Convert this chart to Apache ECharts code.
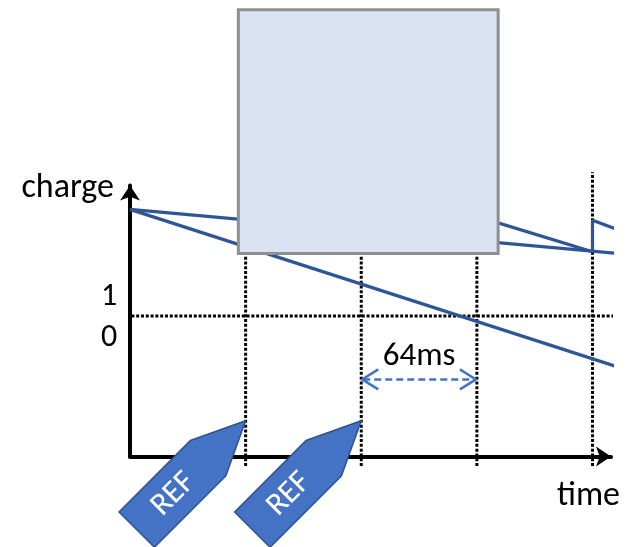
<!DOCTYPE html>
<html><head><meta charset="utf-8">
<script src="https://cdn.jsdelivr.net/npm/echarts@6/dist/echarts.min.js"></script>
<style>html,body{margin:0;padding:0;background:#fff}#c{width:637px;height:547px}</style>
</head><body><div id="c"></div>
<script>
const FONT_FAMILY = 'Carlito, Lato, "Liberation Sans", sans-serif';
// time measured in 64 ms slots, charge measured so the 1/0 threshold is 1
const slowDrain = [[0, 1.76], [4.23, 1.445]];
const fastDrain = [[0, 1.76], [4.22, 0.637]];
const sawtooth = [[3, 1.71], [4, 1.458], [4, 1.683], [4.23, 1.612]];
const slotTimes = [1, 2, 3, 4];
const slotSpan = [-0.068, 2.025];
const threshold = 1;
const thresholdSpan = [-0.32, 4.22];
const refMarkers = [[1, 0.255], [2, 0.255]];
const refLabel = 'REF';
const span = [[2, 3, 0.549]];
const spanLabel = '64ms';
const coverBox = [[0.937, 1.445, 3.184, 3.182]];
const axisNames = { x: 'time', y: 'charge' };
const levelLabels = ['1', '0'];

const chart = echarts.init(document.getElementById('c'));
const BLUE = '#2E5597';
const dotted = { color: '#000', width: 3, type: [3, 1.8] };

const series = [];
slotTimes.forEach(t => {
  series.push({ type: 'line', data: [[t, slotSpan[0]], [t, slotSpan[1]]], showSymbol: false, clip: false,
    lineStyle: dotted, z: 3, silent: true });
});
series.push({ type: 'line', data: [[thresholdSpan[0], threshold], [thresholdSpan[1], threshold]], showSymbol: false,
  clip: false, lineStyle: dotted, z: 3, silent: true });
[slowDrain, fastDrain, sawtooth].forEach(d => {
  series.push({ type: 'line', data: d, showSymbol: false, clip: false,
    lineStyle: { color: BLUE, width: 3.2 }, z: 4, silent: true });
});
series.push({
  type: 'custom', clip: false, z: 6, silent: true, data: refMarkers,
  renderItem(params, api) {
    const p = api.coord([api.value(0), api.value(1)]);
    const L = 154, H = 53, W = 25;
    const du = [-Math.SQRT1_2, Math.SQRT1_2], dv = [-Math.SQRT1_2, -Math.SQRT1_2];
    const pt = (u, v) => [p[0] + u * du[0] + v * dv[0], p[1] + u * du[1] + v * dv[1]];
    const c = pt(103, -1);
    return { type: 'group', children: [
      { type: 'polygon', shape: { points: [pt(0, 0), pt(H, W), pt(L, W), pt(L, -W), pt(H, -W)] },
        style: { fill: '#4472C4', stroke: '#2F528F', lineWidth: 1.5 } },
      { type: 'text', x: c[0], y: c[1], rotation: Math.PI / 4,
        style: { text: refLabel, fill: '#fff', font: '32px ' + FONT_FAMILY, align: 'center', verticalAlign: 'middle' } }
    ] };
  }
});
series.push({
  type: 'custom', clip: false, z: 6, silent: true, data: span,
  renderItem(params, api) {
    const a = api.coord([api.value(0), api.value(2)]);
    const b = api.coord([api.value(1), api.value(2)]);
    const st = { stroke: '#4472C4', lineWidth: 2.5, fill: null };
    return { type: 'group', children: [
      { type: 'line', shape: { x1: a[0] + 2, y1: a[1], x2: b[0] - 2, y2: b[1] },
        style: Object.assign({}, st, { lineDash: [7, 4] }) },
      { type: 'polyline', shape: { points: [[a[0] + 17, a[1] - 10], [a[0] + 1, a[1]], [a[0] + 17, a[1] + 10]] }, style: st },
      { type: 'polyline', shape: { points: [[b[0] - 17, b[1] - 10], [b[0] - 1, b[1]], [b[0] - 17, b[1] + 10]] }, style: st },
      { type: 'text', x: (a[0] + b[0]) / 2, y: a[1] - 22.5,
        style: { text: spanLabel, fill: '#000', font: '33px ' + FONT_FAMILY, align: 'center', verticalAlign: 'middle' } }
    ] };
  }
});
series.push({
  type: 'custom', clip: false, z: 10, silent: true, data: coverBox,
  renderItem(params, api) {
    const tl = api.coord([api.value(0), api.value(3)]);
    const br = api.coord([api.value(2), api.value(1)]);
    return { type: 'rect', shape: { x: tl[0], y: tl[1], width: br[0] - tl[0], height: br[1] - tl[1] },
      style: { fill: '#DAE3F3', stroke: '#8F8F8F', lineWidth: 3 } };
  }
});

const axisCommon = {
  type: 'value',
  axisLine: { show: true, onZero: false, symbol: ['none', 'arrow'], symbolSize: [15, 15],
    lineStyle: { color: '#000', width: 4 } },
  axisTick: { show: false }, axisLabel: { show: false }, splitLine: { show: false }
};

const F = '34px ' + FONT_FAMILY;
const FD = '32px ' + FONT_FAMILY;
chart.setOption({
  animation: false,
  backgroundColor: '#fff',
  grid: { left: 130, right: 26, top: 185.5, bottom: 90.5, containLabel: false },
  xAxis: Object.assign({}, axisCommon, { min: 0, max: 4.16 }),
  yAxis: Object.assign({}, axisCommon, { min: 0, max: 1.93 }),
  graphic: [
    { type: 'text', x: 114, y: 188.5, z: 20, style: { text: axisNames.y, font: F, fill: '#000', align: 'right', verticalAlign: 'middle' } },
    { type: 'text', x: 557, y: 496.5, z: 20, style: { text: axisNames.x, font: F, fill: '#000', align: 'left', verticalAlign: 'middle' } },
    { type: 'text', x: 109, y: 297, z: 20, style: { text: levelLabels[0], font: FD, fill: '#000', align: 'center', verticalAlign: 'middle' } },
    { type: 'text', x: 109, y: 337.5, z: 20, style: { text: levelLabels[1], font: FD, fill: '#000', align: 'center', verticalAlign: 'middle' } }
  ],
  series
});
</script></body></html>
